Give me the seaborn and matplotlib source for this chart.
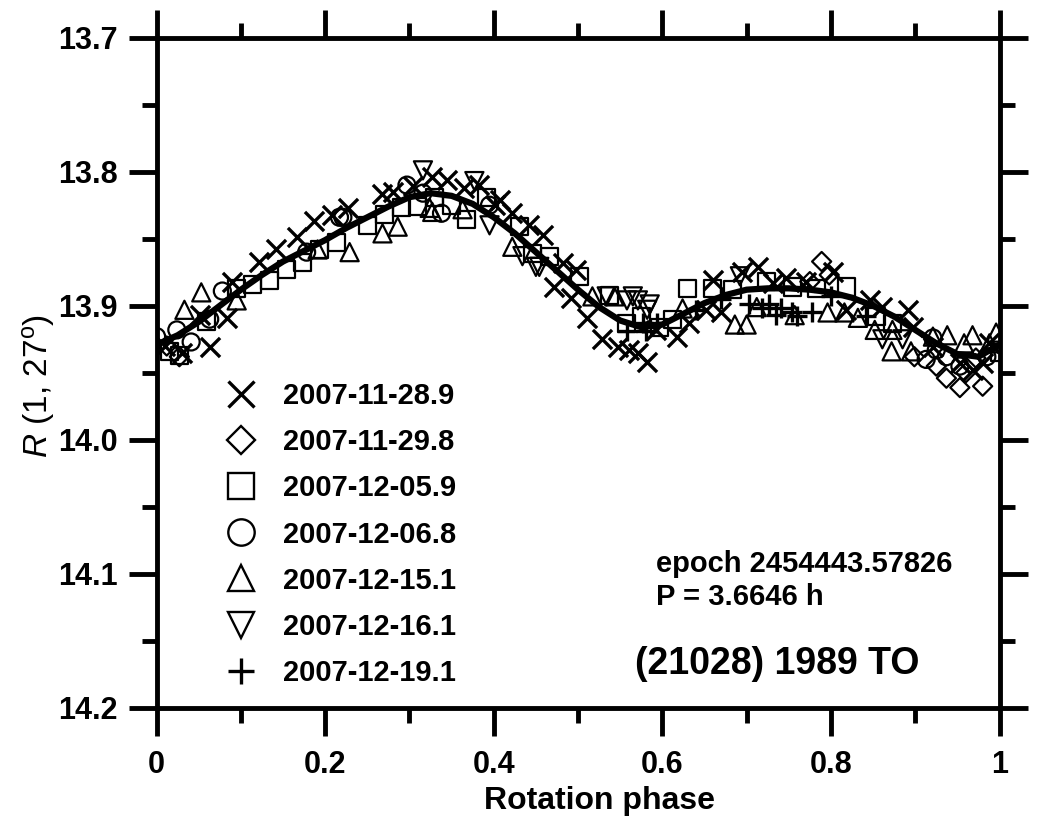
"""Lightcurve of (21028) 1989 TO folded with P = 3.6646 h."""
import matplotlib
matplotlib.use("Agg")
import matplotlib.pyplot as plt
from matplotlib.lines import Line2D
from matplotlib.ticker import MultipleLocator
import seaborn as sns

# --- data (phase, reduced R magnitude) ---
x_1128_phase = [0.01, 0.03, 0.051, 0.063, 0.083, 0.090, 0.122, 0.142, 0.166, 0.187, 0.208, 0.227,
                0.268, 0.280, 0.304, 0.327, 0.344, 0.365, 0.383, 0.401, 0.407, 0.422, 0.442, 0.458,
                0.472, 0.482, 0.492, 0.498, 0.511, 0.529, 0.547, 0.561, 0.571, 0.582, 0.593, 0.617,
                0.632, 0.652, 0.660, 0.670, 0.695, 0.713, 0.731, 0.747, 0.771, 0.802, 0.818, 0.846,
                0.861, 0.891, 0.897, 0.921, 0.953, 0.968, 0.980, 0.988]
x_1128_mag = [13.930, 13.935, 13.907, 13.931, 13.909, 13.882, 13.867, 13.858, 13.849, 13.837, 13.832, 13.827,
              13.817, 13.815, 13.811, 13.804, 13.806, 13.812, 13.810, 13.825, 13.821, 13.831, 13.840, 13.847,
              13.886, 13.868, 13.894, 13.873, 13.909, 13.925, 13.931, 13.933, 13.935, 13.942, 13.918, 13.923,
              13.913, 13.903, 13.881, 13.905, 13.875, 13.871, 13.883, 13.879, 13.882, 13.875, 13.903, 13.896,
              13.901, 13.903, 13.916, 13.931, 13.943, 13.948, 13.943, 13.928]

x_1129_phase = [0.012, 0.027, 0.775, 0.789, 0.798, 0.899, 0.925, 0.937, 0.953, 0.960, 0.972, 0.980]
x_1129_mag = [13.930, 13.938, 13.882, 13.867, 13.877, 13.938, 13.945, 13.954, 13.961, 13.950, 13.939, 13.960]

x_1205_phase = [0.015, 0.027, 0.059, 0.095, 0.114, 0.134, 0.154, 0.173, 0.193, 0.214, 0.250, 0.270,
                0.290, 0.310, 0.330, 0.350, 0.368, 0.391, 0.431, 0.446, 0.466, 0.502, 0.537, 0.558,
                0.575, 0.597, 0.612, 0.630, 0.660, 0.683, 0.723, 0.754, 0.783, 0.818, 0.854, 0.873, 1.0]
x_1205_mag = [13.934, 13.937, 13.912, 13.887, 13.884, 13.881, 13.873, 13.868, 13.858, 13.853, 13.840, 13.832,
              13.827, 13.826, 13.819, 13.825, 13.836, 13.819, 13.841, 13.861, 13.863, 13.878, 13.892, 13.913,
              13.908, 13.916, 13.910, 13.887, 13.887, 13.888, 13.882, 13.886, 13.887, 13.886, 13.908, 13.913, 13.935]

x_1206_phase = [0.0, 0.024, 0.041, 0.063, 0.078, 0.178, 0.217, 0.221, 0.297, 0.316, 0.338, 0.395,
                0.913, 0.921, 0.925, 0.937, 0.953, 0.985]
x_1206_mag = [13.923, 13.918, 13.927, 13.910, 13.889, 13.860, 13.834, 13.834, 13.810, 13.816, 13.831, 13.825,
              13.940, 13.924, 13.933, 13.938, 13.945, 13.938]

x_1215_phase = [0.033, 0.053, 0.095, 0.191, 0.229, 0.268, 0.286, 0.324, 0.327, 0.363, 0.422, 0.517,
                0.543, 0.624, 0.686, 0.700, 0.712, 0.757, 0.796, 0.816, 0.832, 0.852, 0.872, 0.873,
                0.895, 0.921, 0.938, 0.958, 0.968, 0.988, 0.996]
x_1215_mag = [13.903, 13.890, 13.896, 13.858, 13.860, 13.846, 13.841, 13.827, 13.830, 13.828, 13.856, 13.893,
              13.893, 13.902, 13.914, 13.914, 13.901, 13.907, 13.905, 13.905, 13.909, 13.918, 13.934, 13.918,
              13.934, 13.923, 13.922, 13.928, 13.922, 13.928, 13.920]

x_1216_phase = [0.316, 0.377, 0.395, 0.434, 0.450, 0.454, 0.534, 0.558, 0.565, 0.571, 0.582, 0.585,
                0.692, 0.861, 0.885]
x_1216_mag = [13.799, 13.807, 13.840, 13.863, 13.871, 13.871, 13.893, 13.896, 13.893, 13.896, 13.903, 13.899,
              13.878, 13.925, 13.925]

x_1219_phase = [0.558, 0.577, 0.581, 0.594, 0.640, 0.670, 0.703, 0.718, 0.727, 0.735, 0.741, 0.754,
                0.760, 0.777, 0.800, 0.842]
x_1219_mag = [13.919, 13.913, 13.919, 13.913, 13.903, 13.895, 13.899, 13.902, 13.899, 13.907, 13.902, 13.905,
              13.908, 13.905, 13.893, 13.908]

# Fourier fit curve, read point by point
fit_phase = [0.0, 0.025, 0.05, 0.075, 0.1, 0.125, 0.15, 0.175, 0.2, 0.225, 0.25, 0.275, 0.3, 0.325,
             0.35, 0.375, 0.4, 0.425, 0.45, 0.475, 0.5, 0.525, 0.55, 0.575, 0.6, 0.625, 0.65, 0.675,
             0.7, 0.725, 0.75, 0.775, 0.8, 0.825, 0.85, 0.875, 0.9, 0.925, 0.95, 0.975, 1.0]
fit_mag = [13.929, 13.922, 13.912, 13.900, 13.888, 13.877, 13.867, 13.859, 13.851, 13.842, 13.834, 13.826,
           13.819, 13.816, 13.818, 13.824, 13.834, 13.846, 13.860, 13.874, 13.888, 13.901, 13.911, 13.916,
           13.914, 13.906, 13.898, 13.892, 13.888, 13.887, 13.887, 13.888, 13.890, 13.894, 13.900, 13.908,
           13.918, 13.928, 13.936, 13.938, 13.929]

nights = ["2007-11-28.9", "2007-11-29.8", "2007-12-05.9", "2007-12-06.8",
          "2007-12-15.1", "2007-12-16.1", "2007-12-19.1"]
series = [(x_1128_phase, x_1128_mag), (x_1129_phase, x_1129_mag), (x_1205_phase, x_1205_mag),
          (x_1206_phase, x_1206_mag), (x_1215_phase, x_1215_mag), (x_1216_phase, x_1216_mag),
          (x_1219_phase, x_1219_mag)]
markers = ["x", "D", "s", "o", "^", "v", "+"]
sizes = [190, 95, 150, 150, 170, 170, 220]


def main() -> None:
    sns.set_style("ticks")
    plt.rcParams["font.family"] = ["Liberation Sans", "DejaVu Sans"]
    plt.rcParams["mathtext.fontset"] = "custom"
    plt.rcParams["mathtext.it"] = "Liberation Sans:italic"
    plt.rcParams["mathtext.rm"] = "Liberation Sans"
    for key in ("text.color", "axes.labelcolor", "xtick.color", "ytick.color", "axes.edgecolor"):
        plt.rcParams[key] = "black"

    fig, ax = plt.subplots(figsize=(10.51, 8.18), dpi=100)
    fig.subplots_adjust(left=0.149, right=0.951, top=0.954, bottom=0.1345)

    for (ph, mg), mk, sz in zip(series, markers, sizes):
        filled = mk not in ("x", "+")
        sns.scatterplot(x=ph, y=mg, marker=mk, s=sz, ax=ax, color="black",
                        linewidth=2.4 if not filled else 1.6, zorder=2)
        coll = ax.collections[-1]
        if filled:
            coll.set_facecolor("none")
            coll.set_edgecolor("black")
    sns.lineplot(x=fit_phase, y=fit_mag, ax=ax, color="black", lw=4.5, zorder=3, sort=False)

    ax.set_xlim(0, 1)
    ax.set_ylim(14.2, 13.7)
    ax.xaxis.set_major_locator(MultipleLocator(0.2))
    ax.xaxis.set_minor_locator(MultipleLocator(0.1))
    ax.yaxis.set_major_locator(MultipleLocator(0.1))
    ax.yaxis.set_minor_locator(MultipleLocator(0.05))
    ax.set_xticks([0, 0.2, 0.4, 0.6, 0.8, 1.0], ["0", "0.2", "0.4", "0.6", "0.8", "1"])
    ax.tick_params(which="both", direction="out", top=True, right=True, width=3.5,
                   labelsize=22, pad=8)
    ax.tick_params(which="major", length=20)
    ax.tick_params(which="minor", length=11)
    ax.tick_params(axis="x", which="major", pad=10)
    for lab in ax.get_xticklabels() + ax.get_yticklabels():
        lab.set_fontweight("bold")
    for sp in ax.spines.values():
        sp.set_linewidth(3.5)

    ax.set_xlabel("Rotation phase", fontsize=23, fontweight="bold")
    ax.xaxis.set_label_coords(0.526, -0.116)
    ax.set_ylabel(r"$R$ (1, 27$^{\mathrm{o}}$)", fontsize=24)
    ax.yaxis.set_label_coords(-0.118, 0.48)

    handles = [Line2D([], [], ls="", marker=mk, ms=19 if mk != "D" else 14, mfc="none", mec="black",
                      mew=2.4 if mk in ("x", "+") else 1.7)
               for mk in markers]
    leg = ax.legend(handles, nights, loc="upper left", bbox_to_anchor=(0.048, 0.525), frameon=False,
                    prop={"size": 21, "weight": "bold"}, labelspacing=0.62, handletextpad=0.85,
                    handlelength=1.2)
    leg.set_zorder(5)

    ax.text(0.592, 0.19, "epoch 2454443.57826\nP = 3.6646 h", transform=ax.transAxes,
            fontsize=21, fontweight="bold", va="center", linespacing=1.25)
    ax.text(0.568, 0.066, "(21028) 1989 TO", transform=ax.transAxes,
            fontsize=27, fontweight="bold", va="center")

    fig.savefig("out.png", dpi=100)
    plt.close(fig)


if __name__ == "__main__":
    main()
